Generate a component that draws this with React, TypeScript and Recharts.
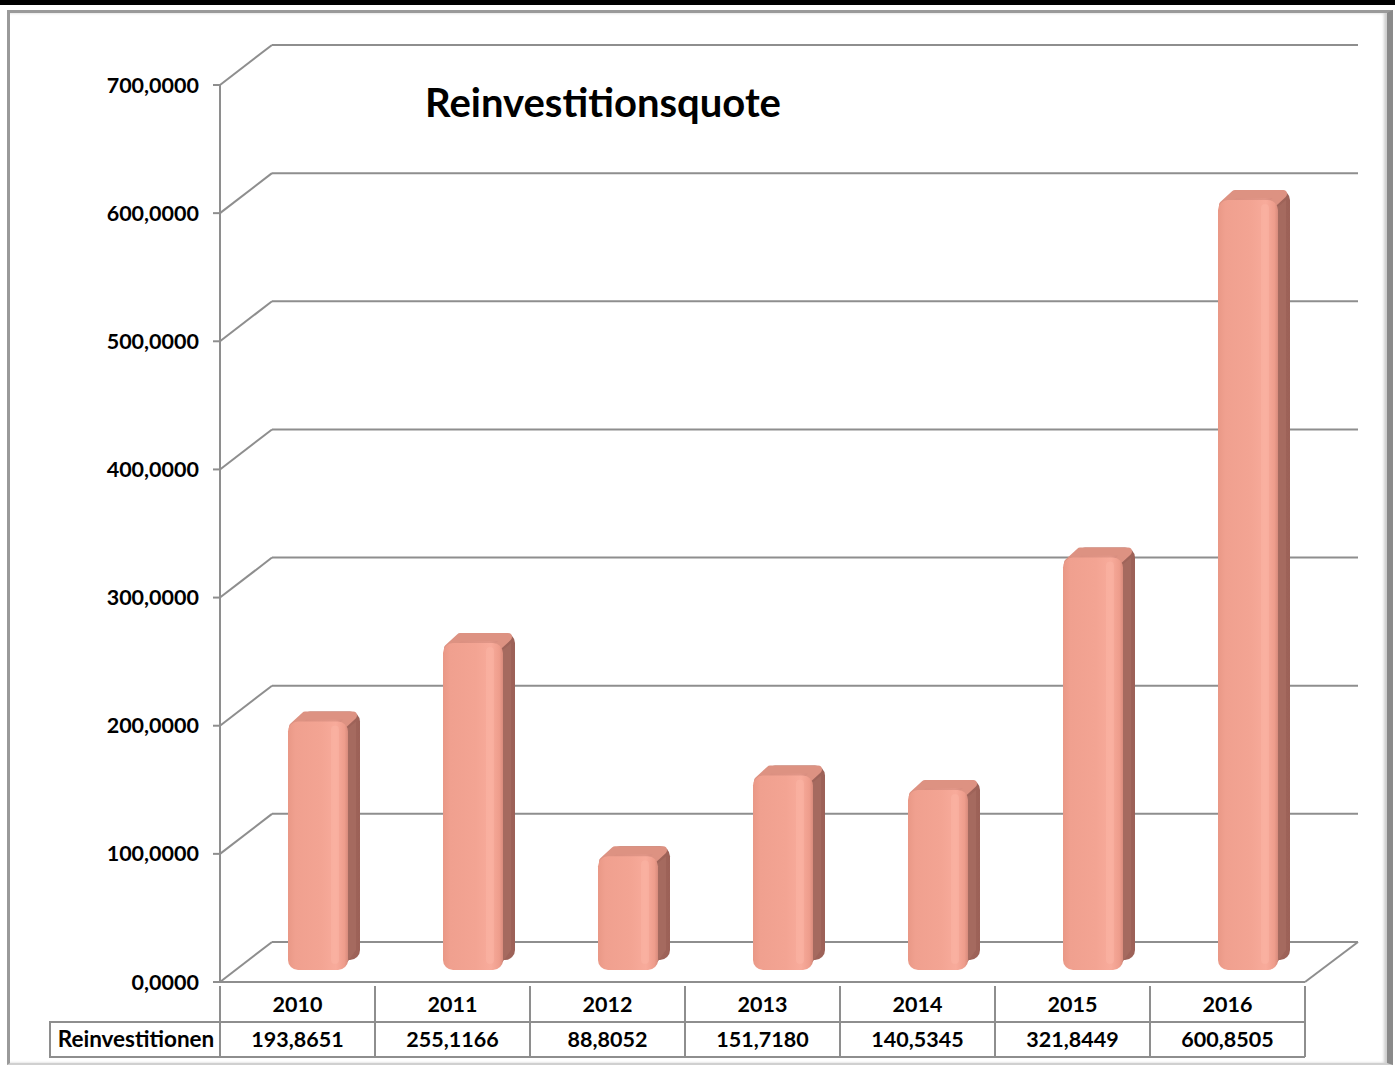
import { BarChart, Bar, XAxis, YAxis, CartesianGrid } from "recharts";

const years = ["2010", "2011", "2012", "2013", "2014", "2015", "2016"];
const reinvestitionen = [193.8651, 255.1166, 88.8052, 151.718, 140.5345, 321.8449, 600.8505];
const yTicks = [0, 100, 200, 300, 400, 500, 600, 700];

const rowLabel = "Reinvestitionen";
const title = "Reinvestitionsquote";

const chartData = years.map((year, i) => ({ year, value: reinvestitionen[i] }));

const FONT = "Lato, 'Open Sans', sans-serif";
const GRID = "#8e8e8e";
// depth of the 3D box (back wall offset) and bar position inside it
const DEPTH_X = 52;
const DEPTH_Y = -40;
const BAR_DX = 20;
const BAR_DY = -12;
const BAR_DEPTH_X = 12;
const BAR_DEPTH_Y = -10;

const fmt = (v: number) => v.toFixed(4).replace(".", ",");

const GridLine = (props: any) => {
  const { x1, x2, y1, index } = props;
  return (
    <g key={`grid-${index}`}>
      <line x1={x1 + DEPTH_X} y1={y1 + DEPTH_Y} x2={x2 + DEPTH_X + 1} y2={y1 + DEPTH_Y} stroke={GRID} strokeWidth={2} />
      <line x1={x1} y1={y1} x2={x1 + DEPTH_X} y2={y1 + DEPTH_Y} stroke={GRID} strokeWidth={2} />
      {index === 0 && (
        <line x1={x2} y1={y1} x2={x2 + DEPTH_X + 1} y2={y1 + DEPTH_Y} stroke={GRID} strokeWidth={2} />
      )}
    </g>
  );
};

const Bar3D = (props: any) => {
  const { x, y, width, height } = props;
  if (!height || height <= 0) return null;
  const fx = x + BAR_DX;
  const fy = y + BAR_DY;
  const w = width;
  const h = height;
  const r = 10;
  const bx = BAR_DEPTH_X;
  const by = BAR_DEPTH_Y;
  return (
    <g>
      {/* back silhouette (side face) */}
      <rect x={fx + bx} y={fy + by} width={w} height={h} rx={r} ry={r} fill="url(#sideGrad)" />
      <path
        d={`M${fx + w - 4},${fy + r} L${fx + w + bx - 4},${fy + by + r} L${fx + w + bx - 4},${fy + h + by - r} L${fx + w - 4},${fy + h - 3} Z`}
        fill="#a56a5f"
      />
      {/* top face */}
      <path
        d={`M${fx + 5},${fy + 5} L${fx + bx + 5},${fy + by + 4} L${fx + w + bx - 7},${fy + by + 4} L${fx + w - 7},${fy + 5} Z`}
        fill="url(#topGrad)"
        stroke="#dd9282"
        strokeWidth={8}
        strokeLinejoin="round"
      />
      {/* front face */}
      <rect x={fx} y={fy} width={w} height={h} rx={r} ry={r} fill="url(#frontGrad)" />
      <rect x={fx + w - 17} y={fy + 4} width={8} height={h - 10} rx={4} fill="#fbb5a6" opacity={0.5} />
    </g>
  );
};

const TableTick = (props: any) => {
  const { x, payload, index, width, visibleTicksCount } = props;
  const band = width && visibleTicksCount ? width / visibleTicksCount : 155;
  const left = x - band / 2;
  const right = x + band / 2;
  const top = props.y - 4; // table top coincides with the floor edge
  const mid = top + 36;
  const bottom = top + 71;
  const i = payload.index ?? index;
  const labelW = 170;
  return (
    <g>
      <line x1={left} y1={top} x2={left} y2={bottom} stroke={GRID} strokeWidth={2} />
      <line x1={right} y1={top} x2={right} y2={bottom} stroke={GRID} strokeWidth={2} />
      <line x1={left} y1={mid} x2={right} y2={mid} stroke={GRID} strokeWidth={2} />
      <line x1={left} y1={bottom} x2={right} y2={bottom} stroke={GRID} strokeWidth={2} />
      <text x={x} y={top + 26} textAnchor="middle" fontFamily={FONT} fontWeight={700} fontSize={21.5} fill="#000">
        {payload.value}
      </text>
      <text x={x} y={mid + 25} textAnchor="middle" fontFamily={FONT} fontWeight={700} fontSize={21.5} fill="#000">
        {fmt(reinvestitionen[i])}
      </text>
      {i === 0 && (
        <g>
          <rect x={left - labelW} y={mid} width={labelW} height={bottom - mid} fill="none" stroke={GRID} strokeWidth={2} />
          <text x={left - labelW / 2 + 1} y={mid + 25} textAnchor="middle" fontFamily={FONT} fontWeight={700} fontSize={22.5} fill="#000">
            {rowLabel}
          </text>
        </g>
      )}
    </g>
  );
};

export default function App() {
  return (
    <div style={{ position: "absolute", left: 0, top: 0, width: 1395, height: 1065, background: "#fff", overflow: "hidden" }}>
      <div style={{ position: "absolute", left: 0, top: 0, width: 1395, height: 5, background: "#000" }} />
      <div
        style={{
          position: "absolute",
          left: 7,
          top: 10,
          width: 1377,
          height: 1050,
          borderLeft: "3px solid #9a9a9a",
          borderTop: "3px solid #9a9a9a",
          borderRight: "6px solid #8a8a8a",
          borderBottom: "2px solid #d0d0d0",
          boxShadow: "inset -3px 0 3px #cfcfcf",
        }}
      />
      <div style={{ position: "absolute", left: 0, top: 0 }}>
        <BarChart width={1395} height={1065} data={chartData} margin={{ top: 85, right: 90, bottom: 0, left: 0 }} barSize={60}>
          <defs>
            <linearGradient id="frontGrad" x1="0" y1="0" x2="1" y2="0">
              <stop offset="0%" stopColor="#e99886" />
              <stop offset="12%" stopColor="#f0a08f" />
              <stop offset="55%" stopColor="#f3a493" />
              <stop offset="80%" stopColor="#f8ab9b" />
              <stop offset="94%" stopColor="#ee9d8c" />
              <stop offset="100%" stopColor="#d88b7c" />
            </linearGradient>
            <linearGradient id="sideGrad" x1="0" y1="0" x2="1" y2="0">
              <stop offset="0%" stopColor="#ad7166" />
              <stop offset="100%" stopColor="#9c6157" />
            </linearGradient>
            <linearGradient id="topGrad" x1="0" y1="0" x2="1" y2="0">
              <stop offset="0%" stopColor="#d98d7e" />
              <stop offset="70%" stopColor="#e19687" />
              <stop offset="100%" stopColor="#c98073" />
            </linearGradient>
          </defs>
          <CartesianGrid vertical={false} horizontal={GridLine} />
          <XAxis
            dataKey="year"
            height={83}
            interval={0}
            tickLine={false}
            axisLine={{ stroke: GRID, strokeWidth: 2 }}
            tick={<TableTick />}
          />
          <YAxis
            width={220}
            domain={[0, 700]}
            ticks={yTicks}
            interval={0}
            tickFormatter={fmt}
            tickSize={7}
            tickMargin={14}
            axisLine={{ stroke: GRID, strokeWidth: 2 }}
            tickLine={{ stroke: GRID, strokeWidth: 2 }}
            tick={{ fill: "#000", fontFamily: FONT, fontWeight: 700, fontSize: 21.5 }}
          />
          <Bar dataKey="value" shape={<Bar3D />} isAnimationActive={false} />
        </BarChart>
      </div>
      <div
        style={{
          position: "absolute",
          left: 603,
          top: 78,
          transform: "translateX(-50%)",
          fontFamily: FONT,
          fontWeight: 700,
          fontSize: 40,
          color: "#000",
          whiteSpace: "nowrap",
        }}
      >
        {title}
      </div>
    </div>
  );
}
